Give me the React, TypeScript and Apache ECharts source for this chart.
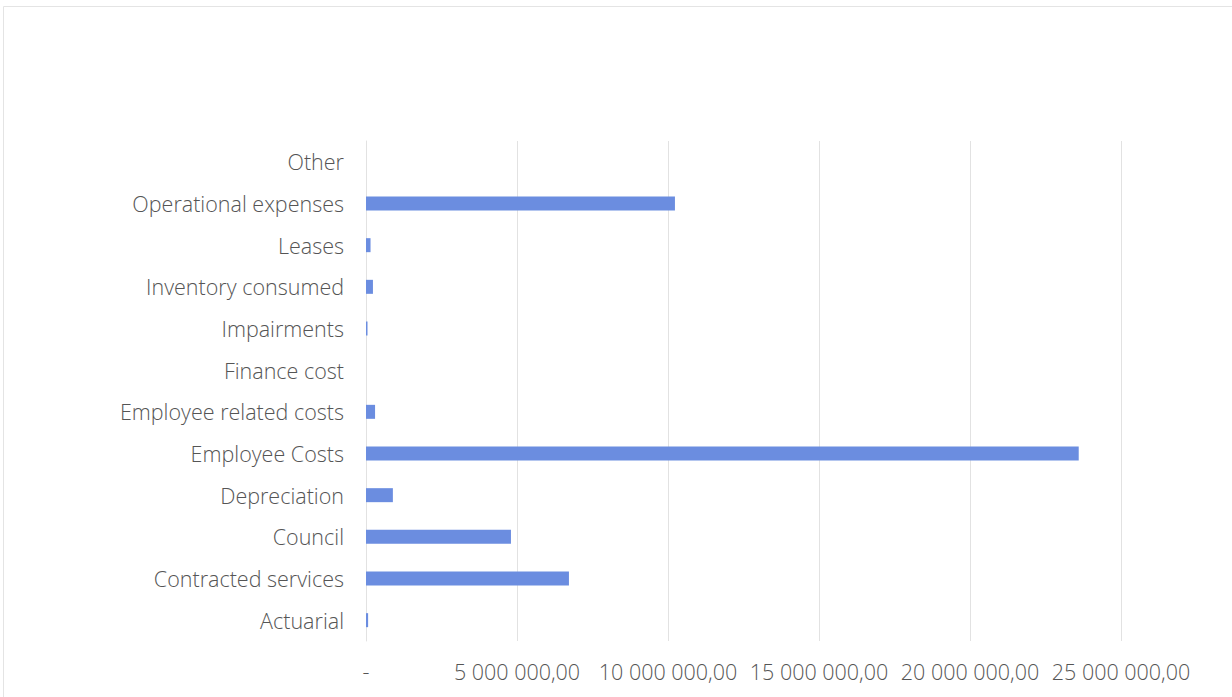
import React, { useEffect, useRef } from "react";
import * as echarts from "echarts";

const categories = [
  "Actuarial",
  "Contracted services",
  "Council",
  "Depreciation",
  "Employee Costs",
  "Employee related costs",
  "Finance cost",
  "Impairments",
  "Inventory consumed",
  "Leases",
  "Operational expenses",
  "Other",
];

const values = [
  70000, 6720000, 4800000, 890000, 23600000, 300000, 0, 50000, 230000, 150000,
  10230000, 0,
];

const axisMax = 25000000;
const axisInterval = 5000000;

function formatValue(v: number): string {
  if (v === 0) return "-";
  const int = Math.round(v).toString().replace(/\B(?=(\d{3})+(?!\d))/g, " ");
  return int + ",00";
}

export default function App() {
  const ref = useRef<HTMLDivElement>(null);
  useEffect(() => {
    if (!ref.current) return;
    const chart = echarts.init(ref.current, undefined, { renderer: "svg" });
    chart.setOption({
      animation: false,
      backgroundColor: "#ffffff",
      graphic: [
        {
          type: "rect",
          shape: { x: 3.5, y: 6.5, width: 1240, height: 700 },
          style: { fill: "none", stroke: "#e4e4e4", lineWidth: 1 },
          silent: true,
        },
      ],
      grid: { left: 366, right: 111, top: 141, bottom: 56, containLabel: false },
      xAxis: {
        type: "value",
        min: 0,
        max: axisMax,
        interval: axisInterval,
        axisLine: { show: false },
        axisTick: { show: false },
        splitLine: { show: true, lineStyle: { color: "#e2e2e2", width: 1 } },
        axisLabel: {
          formatter: (v: number) => formatValue(v),
          color: "#555555",
          fontFamily: "Open Sans",
          fontWeight: 300,
          fontSize: 21.5,
          margin: 19,
        },
      },
      yAxis: {
        type: "category",
        data: categories,
        axisLine: { show: true, lineStyle: { color: "#e2e2e2" } },
        axisTick: { show: false },
        axisLabel: {
          color: "#555555",
          fontFamily: "Open Sans",
          fontWeight: 300,
          fontSize: 21.5,
          margin: 22,
        },
      },
      series: [
        {
          type: "bar",
          data: values,
          barWidth: 14,
          itemStyle: { color: "#6b8de0" },
        },
      ],
    });
    return () => chart.dispose();
  }, []);
  return (
    <div
      ref={ref}
      style={{ position: "fixed", left: 0, top: 0, width: 1232, height: 697 }}
    />
  );
}
